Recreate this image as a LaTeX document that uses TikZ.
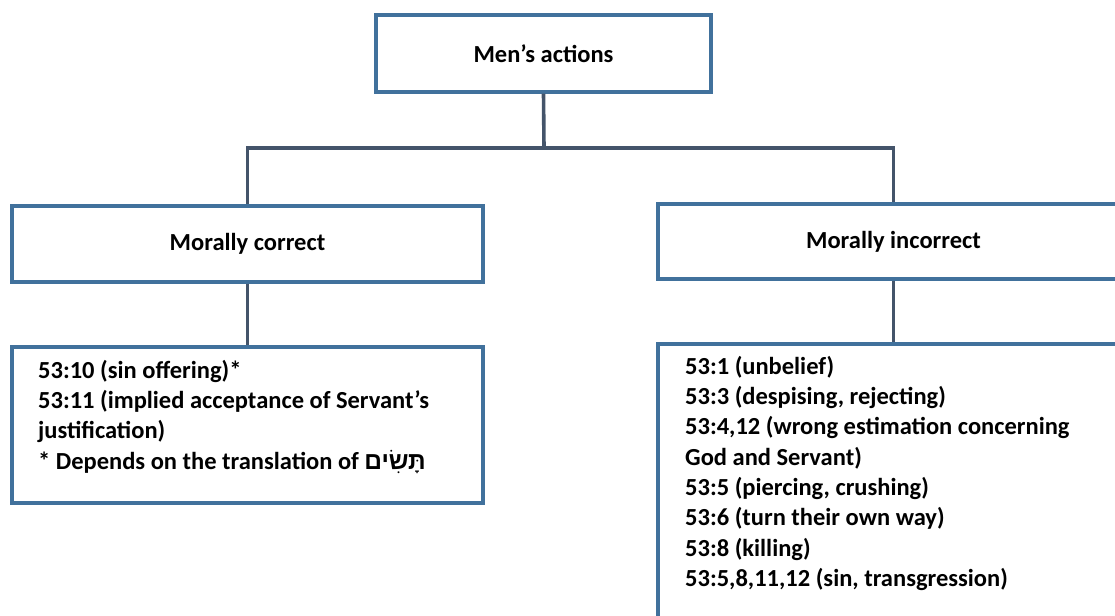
\documentclass[tikz,border=0pt]{standalone}
\usepackage{fontspec}
\setmainfont{Carlito}
\newfontfamily\hebfont[Script=Hebrew]{Liberation Sans}
\TeXXeTstate=1
\definecolor{boxblue}{HTML}{41719C}
\definecolor{linegray}{HTML}{44546A}
\begin{document}
\begin{tikzpicture}[x=1pt,y=-1pt,
  box/.style={draw=boxblue, line width=3.3pt, fill=white, minimum width=471pt,
    minimum height=76pt, inner sep=0pt, font=\fontsize{24.5}{30.3}\selectfont\bfseries},
  link/.style={draw=linegray, line width=3.6pt},
  listtext/.style={font=\fontsize{24.5}{30.3}\selectfont\bfseries, align=left,
    anchor=north west, inner sep=0pt}]
\useasboundingbox (0,0) rectangle (1115,615);
\clip (0,0) rectangle (1115,615);
\node[box, minimum width=335pt, minimum height=77pt] (top) at (543.5,53.5) {Men’s actions};
\node[box] (mc) at (247.5,244) {Morally correct};
\node[box, minimum height=75pt] (mi) at (893.5,241.5) {Morally incorrect};
\node[box, minimum height=156pt] (lc) at (247.5,425) {};
\node[box, minimum height=306pt] (li) at (893.5,497) {};
\coordinate (j) at (544,148);
\draw[link] (top.south) -- (j);
\draw[link] (j) -| (mc.north);
\draw[link] (j) -| (mi.north);
\draw[link] (mc.south) -- (lc.north);
\draw[link] (mi.south) -- (li.north);
\node[listtext] (lct) at (38,360) {53:10 (sin offering)*\\
53:11 (implied acceptance of Servant’s\\
justification)\\
* Depends on the translation of {\hebfont\beginR תָּשִׂים\endR}};
\node[listtext] (lit) at (685,356) {53:1 (unbelief)\\
53:3 (despising, rejecting)\\
53:4,12 (wrong estimation concerning\\
God and Servant)\\
53:5 (piercing, crushing)\\
53:6 (turn their own way)\\
53:8 (killing)\\
53:5,8,11,12 (sin, transgression)};
\end{tikzpicture}
\end{document}
